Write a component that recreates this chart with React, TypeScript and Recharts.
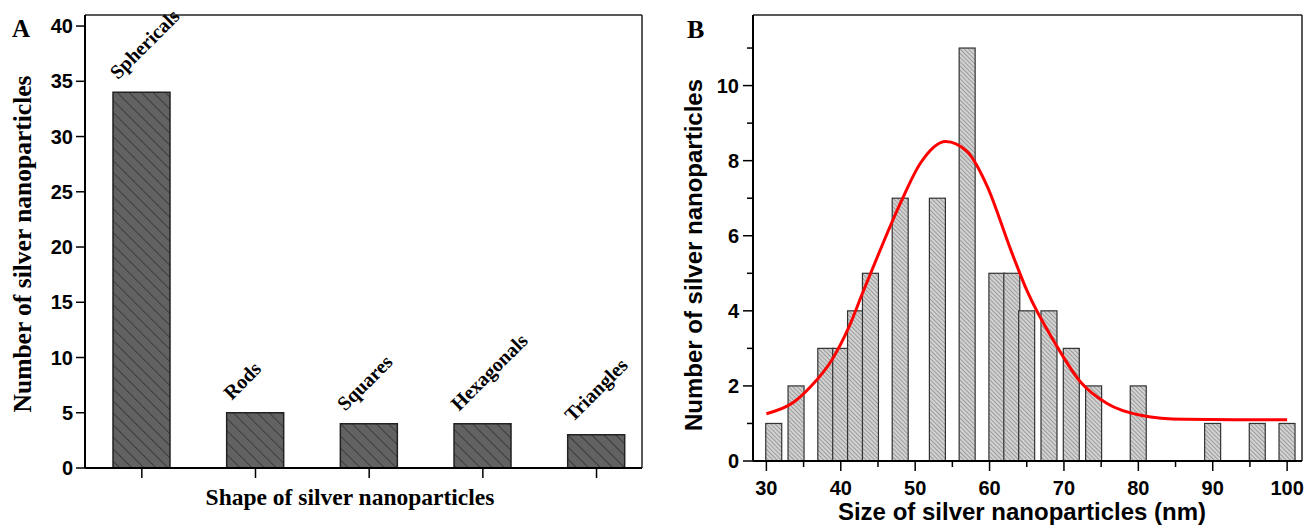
import React from 'react';
import {
  ComposedChart,
  Bar,
  Line,
  XAxis,
  YAxis,
  ReferenceLine,
  LabelList,
} from 'recharts';

// panel A: shape counts
const shapeNames = ['Sphericals', 'Rods', 'Squares', 'Hexagonals', 'Triangles'];
const shapeCounts = [34, 5, 4, 4, 3];
const shapeTicksY = [0, 5, 10, 15, 20, 25, 30, 35, 40];

// panel B: size histogram (bin centre, nm) and fitted curve
const sizeBins = [31, 34, 38, 40, 42, 44, 48, 53, 57, 61, 63, 65, 68, 71, 74, 80, 90, 96, 100];
const sizeCounts = [1, 2, 3, 3, 4, 5, 7, 7, 11, 5, 5, 4, 4, 3, 2, 2, 1, 1, 1];
const fitX = [30, 33.7, 35.9, 38.8, 41.1, 42.9, 45.3, 48, 50.7, 54.1, 57, 59.7, 62.8, 65, 69.1, 72.2, 75.8, 80.3, 86.1, 93, 100];
const fitY = [1.26, 1.57, 1.97, 2.69, 3.57, 4.46, 5.62, 6.86, 7.93, 8.51, 8.24, 7.31, 5.65, 4.55, 3.04, 2.11, 1.53, 1.22, 1.11, 1.1, 1.1];
const sizeTicksX = [30, 35, 40, 45, 50, 55, 60, 65, 70, 75, 80, 85, 90, 95, 100];
const countTicksY = [0, 1, 2, 3, 4, 5, 6, 7, 8, 9, 10, 11];

const shapeData = shapeNames.map((name, i) => ({ pos: i + 1, name, count: shapeCounts[i] }));

const sizeData = [
  ...sizeBins.map((x, i) => ({ x, count: sizeCounts[i] as number | undefined, fit: undefined as number | undefined })),
  ...fitX.map((x, i) => ({ x, count: undefined as number | undefined, fit: fitY[i] })),
].sort((a, b) => a.x - b.x);

const SERIF = '"Liberation Serif", "Times New Roman", serif';
const SANS = '"Liberation Sans", Arial, sans-serif';

const TICK = 10;
const MARGIN = 4;

const ShapeLabel = (props: any) => {
  const { x, y, value } = props;
  const tx = x + 5;
  const ty = y - 12;
  return (
    <text
      x={tx}
      y={ty}
      transform={`rotate(-45 ${tx} ${ty})`}
      fontFamily={SERIF}
      fontWeight="bold"
      fontSize={20}
      fill="#000"
    >
      {value}
    </text>
  );
};

const HistBar = (props: any) => {
  const { x, y, width, height, payload } = props;
  if (payload == null || payload.count == null || !isFinite(y)) return <g />;
  const cx = x + width / 2;
  return (
    <rect
      x={cx - 8}
      y={y}
      width={16}
      height={height}
      fill="url(#hatchB)"
      stroke="#333"
      strokeWidth={1.2}
    />
  );
};

const CountTick = (props: any) => {
  const { x, y, payload } = props;
  const v = payload.value;
  const major = v % 2 === 0;
  const axisX = x + TICK + MARGIN;
  return (
    <g>
      <line x1={axisX - (major ? 10 : 6)} x2={axisX} y1={y} y2={y} stroke="#000" strokeWidth={1.5} />
      {major && (
        <text x={x} y={y} dy="0.35em" textAnchor="end" fontFamily={SANS} fontWeight="bold" fontSize={20} fill="#000">
          {v}
        </text>
      )}
    </g>
  );
};

const SizeTick = (props: any) => {
  const { x, y, payload } = props;
  const v = payload.value;
  const major = v % 10 === 0;
  const axisY = y - TICK - MARGIN;
  return (
    <g>
      <line x1={x} x2={x} y1={axisY} y2={axisY + (major ? 10 : 6)} stroke="#000" strokeWidth={1.5} />
      {major && (
        <text x={x} y={axisY + 34} textAnchor="middle" fontFamily={SANS} fontWeight="bold" fontSize={20} fill="#000">
          {v}
        </text>
      )}
    </g>
  );
};

export default function App() {
  return (
    <div style={{ position: 'absolute', left: 0, top: 0, width: 1306, height: 528, background: '#fff' }}>
      <svg width={0} height={0} style={{ position: 'absolute' }}>
        <defs>
          <pattern id="hatchA" patternUnits="userSpaceOnUse" width={8.5} height={8.5} patternTransform="rotate(-45)">
            <rect width={8.5} height={8.5} fill="#626262" />
            <line x1={0} y1={0} x2={0} y2={8.5} stroke="#222" strokeWidth={1.2} />
          </pattern>
          <pattern id="hatchB" patternUnits="userSpaceOnUse" width={3} height={3} patternTransform="rotate(-45)">
            <rect width={3} height={3} fill="#d2d2d2" />
            <line x1={0} y1={0} x2={0} y2={3} stroke="#666" strokeWidth={1} />
          </pattern>
        </defs>
      </svg>

      <div style={{ position: 'absolute', left: 0, top: 0 }}>
        <ComposedChart width={660} height={528} data={shapeData} margin={{ top: 15, right: 18, bottom: 0, left: 0 }}>
          <XAxis
            type="number"
            dataKey="pos"
            domain={[0.5, 5.4]}
            ticks={[1, 2, 3, 4, 5]}
            interval={0}
            height={60}
            tickSize={10}
            tickFormatter={() => ''}
            allowDataOverflow
            axisLine={{ stroke: '#000', strokeWidth: 2 }}
            tickLine={{ stroke: '#000', strokeWidth: 1.5 }}
          />
          <YAxis
            type="number"
            domain={[0, 41]}
            ticks={shapeTicksY}
            interval={0}
            width={85}
            tickSize={9}
            tickMargin={3}
            allowDataOverflow
            axisLine={{ stroke: '#000', strokeWidth: 2 }}
            tickLine={{ stroke: '#000', strokeWidth: 1.5 }}
            tick={{ fontFamily: SANS, fontWeight: 'bold', fontSize: 20, fill: '#000' }}
          />
          <ReferenceLine y={41} stroke="#222" strokeWidth={1.5} />
          <ReferenceLine x={5.4} stroke="#222" strokeWidth={1.5} />
          <Bar
            dataKey="count"
            barSize={57}
            fill="url(#hatchA)"
            stroke="#222"
            strokeWidth={1.5}
            isAnimationActive={false}
          >
            <LabelList dataKey="name" content={ShapeLabel} />
          </Bar>
          <text x={12} y={37} fontFamily={SERIF} fontWeight="bold" fontSize={25} fill="#000">
            A
          </text>
          <text
            x={31}
            y={244}
            transform="rotate(-90 31 244)"
            textAnchor="middle"
            fontFamily={SERIF}
            fontWeight="bold"
            fontSize={25.5}
            fill="#000"
          >
            Number of silver nanoparticles
          </text>
          <text x={350} y={505} textAnchor="middle" fontFamily={SERIF} fontWeight="bold" fontSize={23.5} fill="#000">
            Shape of silver nanoparticles
          </text>
        </ComposedChart>
      </div>

      <div style={{ position: 'absolute', left: 660, top: 0 }}>
        <ComposedChart width={646} height={528} data={sizeData} margin={{ top: 15, right: 4, bottom: 0, left: 0 }}>
          <XAxis
            type="number"
            dataKey="x"
            domain={[28.2, 102]}
            ticks={sizeTicksX}
            interval={0}
            height={67}
            tickSize={TICK}
            tickMargin={MARGIN}
            allowDataOverflow
            axisLine={{ stroke: '#000', strokeWidth: 2 }}
            tickLine={false}
            tick={SizeTick}
          />
          <YAxis
            type="number"
            domain={[0, 11.88]}
            ticks={countTicksY}
            interval={0}
            width={93}
            tickSize={TICK}
            tickMargin={MARGIN}
            allowDataOverflow
            axisLine={{ stroke: '#000', strokeWidth: 2 }}
            tickLine={false}
            tick={CountTick}
          />
          <ReferenceLine y={11.88} stroke="#222" strokeWidth={1.5} />
          <ReferenceLine x={102} stroke="#222" strokeWidth={1.5} />
          <Bar dataKey="count" shape={HistBar} isAnimationActive={false} />
          <Line
            type="monotone"
            dataKey="fit"
            stroke="#ff0000"
            strokeWidth={3}
            dot={false}
            connectNulls
            isAnimationActive={false}
          />
          <text x={27} y={38} fontFamily={SERIF} fontWeight="bold" fontSize={26} fill="#000">
            B
          </text>
          <text
            x={42}
            y={255}
            transform="rotate(-90 42 255)"
            textAnchor="middle"
            fontFamily={SANS}
            fontWeight="bold"
            fontSize={24}
            fill="#000"
          >
            Number of silver nanoparticles
          </text>
          <text x={362} y={520} textAnchor="middle" fontFamily={SANS} fontWeight="bold" fontSize={24} fill="#000">
            Size of silver nanoparticles (nm)
          </text>
        </ComposedChart>
      </div>
    </div>
  );
}
